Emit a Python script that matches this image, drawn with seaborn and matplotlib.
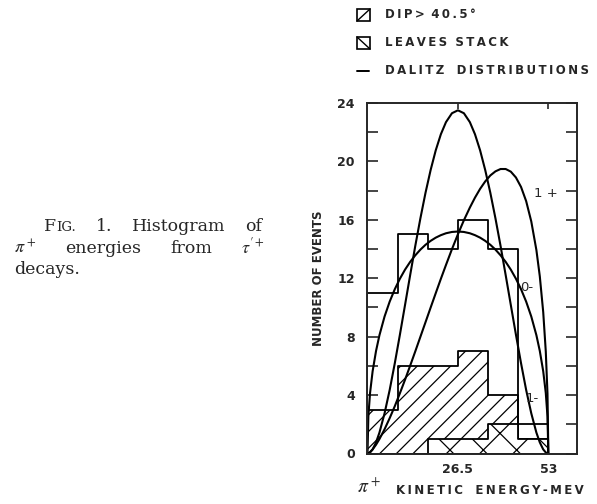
import matplotlib
matplotlib.use("Agg")
import matplotlib.pyplot as plt
import seaborn as sns
from matplotlib.patches import Rectangle
from matplotlib.lines import Line2D

# histogram of pi+ kinetic energies (MeV), six bins up to 53 MeV
bin_edges = [0, 8.83, 17.67, 26.5, 35.33, 44.17, 53]
all_events = [11, 15, 14, 16, 14, 2]
dip_events = [3, 6, 6, 7, 4, 1]      # dip > 40.5 deg
stack_events = [0, 0, 1, 1, 2, 1]    # leaves stack

# Dalitz distributions
curve_x = [0, 0.25, 0.75, 1.5, 2.5, 3.5, 5, 6.5, 8, 9.5, 11, 12.5, 14, 15.5,
           17, 18.5, 20, 21.5, 23, 24.75, 26.5, 28.25, 30, 31.5, 33, 34.5, 36,
           37.5, 39, 40.5, 42, 43.5, 45, 46.5, 48, 49.5, 50.5, 51.5, 52.25,
           52.75, 53]
curve_0m = [0, 2.54, 4.15, 5.63, 7.02, 8.10, 9.38, 10.40, 11.25, 11.97, 12.59,
            13.12, 13.57, 13.96, 14.29, 14.56, 14.78, 14.95, 15.08, 15.17, 15.2,
            15.17, 15.08, 14.95, 14.78, 14.56, 14.29, 13.96, 13.57, 13.12, 12.59,
            11.97, 11.25, 10.40, 9.38, 8.10, 7.02, 5.63, 4.15, 2.54, 0]
curve_1p = [0, 0.02, 0.10, 0.28, 0.60, 0.99, 1.66, 2.42, 3.24, 4.13, 5.05,
            6.01, 6.99, 7.99, 8.99, 9.99, 10.98, 11.96, 12.91, 13.99, 15.01,
            15.97, 16.84, 17.52, 18.12, 18.63, 19.04, 19.32, 19.48, 19.48, 19.30,
            18.90, 18.25, 17.28, 15.89, 13.93, 12.13, 9.68, 6.99, 4.09, 0]
curve_1m = [0, 0.01, 0.07, 0.28, 0.76, 1.43, 2.75, 4.35, 6.18, 8.14, 10.17,
            12.21, 14.21, 16.10, 17.85, 19.41, 20.76, 21.86, 22.69, 23.30, 23.5,
            23.30, 22.69, 21.86, 20.76, 19.41, 17.85, 16.10, 14.21, 12.21, 10.17,
            8.14, 6.18, 4.35, 2.75, 1.43, 0.76, 0.28, 0.07, 0.01, 0]

curve_labels = ["1 +", "0-", "1-"]
curve_label_x = [52.3, 46.6, 48.3]
curve_label_y = [17.8, 11.4, 3.8]

x_ticks = [26.5, 53]
x_ticklabels = ["26.5", "53"]
y_ticks = [0, 4, 8, 12, 16, 20, 24]

sns.set_style("ticks")
plt.rcParams["font.family"] = ["DejaVu Sans"]
plt.rcParams["mathtext.fontset"] = "stix"
plt.rcParams["hatch.color"] = "black"
plt.rcParams["hatch.linewidth"] = 0.9

W, H = 597, 504
fig = plt.figure(figsize=(W / 100, H / 100), dpi=100)
ax = fig.add_axes([367.5 / W, 1 - 453.5 / H, (577 - 367.5) / W, (453.5 - 103) / H])

centers = [(a + b) / 2 for a, b in zip(bin_edges[:-1], bin_edges[1:])]

sns.histplot(x=centers, weights=dip_events, bins=bin_edges, element="step",
             fill=True, color="black", facecolor="white", edgecolor="black",
             hatch="//", linewidth=1.3, ax=ax)
sns.histplot(x=centers, weights=stack_events, bins=bin_edges, element="step",
             fill=True, color="black", facecolor="white", edgecolor="black",
             hatch="x", linewidth=1.3, ax=ax)
sns.histplot(x=centers, weights=all_events, bins=bin_edges, element="step",
             fill=True, color="black", facecolor="none", edgecolor="black",
             linewidth=1.3, ax=ax)

for ys in [curve_0m, curve_1p, curve_1m]:
    sns.lineplot(x=curve_x, y=ys, color="black", linewidth=1.5, ax=ax)

for lab, lx, ly in zip(curve_labels, curve_label_x, curve_label_y):
    ax.text(lx, ly, lab, fontsize=9.5, ha="center", va="center")

ax.set_xlim(0, 61.4)
ax.set_ylim(0, 24)
ax.set_xticks(x_ticks)
ax.set_xticklabels(x_ticklabels, fontsize=9, fontweight="bold")
ax.set_yticks(y_ticks)
ax.set_yticklabels([str(v) for v in y_ticks], fontsize=9, fontweight="bold")
ax.set_yticks(range(2, 24, 4), minor=True)
ax.tick_params(axis="y", which="both", direction="in", left=True, right=True,
               length=8, width=1.2, pad=9)
ax.tick_params(axis="x", direction="in", top=True, bottom=True,
               length=4, width=1.2, pad=7)
ax.set_xlabel("")
ax.set_ylabel("")
for sp in ax.spines.values():
    sp.set_visible(True)
    sp.set_linewidth(1.4)


def px(x, y):
    return x / W, 1 - y / H


def spaced(s):
    return "\u2009".join(s)


# axis titles
fig.text(*px(318, 278), "NUMBER OF EVENTS", rotation=90, fontsize=8.5,
         fontweight="bold", ha="center", va="center")
fig.text(*px(369, 487), r"$\pi^+$", fontsize=14, ha="center", va="center")
fig.text(*px(490, 490), spaced("KINETIC") + "   " + spaced("ENERGY-MEV"),
         fontsize=8.5, fontweight="bold", ha="center", va="center")

# legend
for y0, diag in [(9, "/"), (37, "\\")]:
    fig.add_artist(Rectangle(px(357, y0 + 12), 13 / W, 12 / H,
                             transform=fig.transFigure, facecolor="white",
                             edgecolor="black", lw=1.2))
    ys = [1 - (y0 + 12) / H, 1 - y0 / H] if diag == "/" else [1 - y0 / H, 1 - (y0 + 12) / H]
    fig.add_artist(Line2D([357 / W, 370 / W], ys, transform=fig.transFigure,
                          color="black", lw=1.0))
fig.add_artist(Line2D([357 / W, 369 / W], [1 - 71 / H, 1 - 71 / H],
                      transform=fig.transFigure, color="black", lw=1.4))
fig.text(*px(385, 15), spaced("DIP") + "\u2009>\u2009 " + spaced("40.5°"),
         fontsize=8.5, fontweight="bold", va="center")
fig.text(*px(385, 43), spaced("LEAVES") + "  " + spaced("STACK"), fontsize=8.5,
         fontweight="bold", va="center")
fig.text(*px(385, 71), spaced("DALITZ") + "   " + spaced("DISTRIBUTIONS"),
         fontsize=8.5, fontweight="bold", va="center")

# caption, justified by hand
renderer = fig.canvas.get_renderer()
serif = "DejaVu Serif"


def caption_line(words, x0, x1, y, justify=True):
    items = []
    total = 0
    for word in words:
        parts = []
        wsum = 0
        for s, size in word:
            t = fig.text(0, 0, s, fontsize=size, family=serif, va="baseline")
            w = t.get_window_extent(renderer).width
            parts.append((t, w))
            wsum += w
        items.append((parts, wsum))
        total += wsum
    gap = (x1 - x0 - total) / (len(items) - 1) if justify and len(items) > 1 else 4
    x = x0
    for parts, wsum in items:
        for t, w in parts:
            t.set_position(px(x, y))
            x += w
        x += gap


caption_line([[("F", 12.5), ("IG.", 9.5)], [("1.", 12.5)], [("Histogram", 12.5)],
              [("of", 12.5)]], 44, 262, 231)
caption_line([[(r"$\pi^+$", 13)], [("energies", 12.5)], [("from", 12.5)],
              [(r"$\tau^{\prime +}$", 13)]], 14, 265, 253)
caption_line([[("decays.", 12.5)]], 14, 265, 274, justify=False)

fig.savefig("out.png", dpi=100)
